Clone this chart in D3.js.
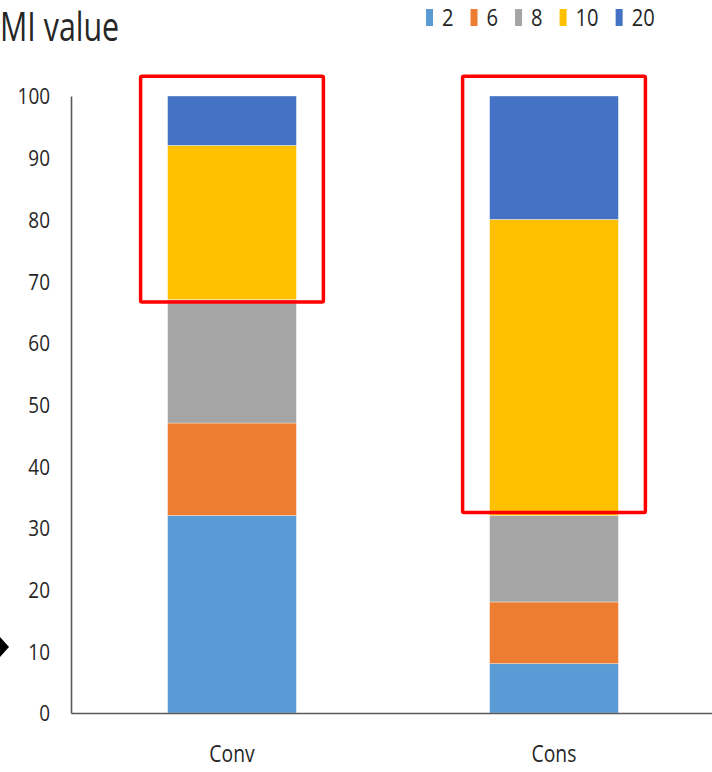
<!DOCTYPE html>
<html>
<head>
<meta charset="utf-8">
<script src="https://cdn.jsdelivr.net/npm/d3@7"></script>
<style>
  html, body { margin: 0; padding: 0; background: #fff; }
  svg { display: block; }
  text { font-family: "Open Sans", "Noto Sans", sans-serif; fill: #262626; }
</style>
</head>
<body>
<svg id="chart" width="712" height="772"></svg>
<script>
// Stacked composition (%) of each MI value class per treatment
const categories = ["Conv", "Cons"];
const seriesKeys = ["2", "6", "8", "10", "20"];
const share2  = [32, 8];
const share6  = [15, 10];
const share8  = [20, 14];
const share10 = [25, 48];
const share20 = [8, 20];
const yTicks = [0, 10, 20, 30, 40, 50, 60, 70, 80, 90, 100];
const colors = ["#5B9BD5", "#ED7D31", "#A5A5A5", "#FFC000", "#4472C4"];

// Highlighted ranges (value span) drawn as red boxes around the upper classes
const highlightCats = ["Conv", "Cons"];
const highlightFrom = [66.6, 32.5];
const highlightTo   = [103.2, 103.2];
// Pointer marker beside the axis
const pointerValue = 10.7;

const seriesValues = [share2, share6, share8, share10, share20];
const rows = categories.map((c, i) => {
  const r = { cat: c };
  seriesKeys.forEach((k, j) => { r[k] = seriesValues[j][i]; });
  return r;
});

const svg = d3.select("#chart");
const W = 712, H = 772;
const margin = { left: 71, right: -3, top: 96, bottom: 59 };

const x = d3.scaleBand()
  .domain(categories)
  .range([margin.left, W - margin.right])
  .paddingInner(0.6)
  .paddingOuter(0.3);

const y = d3.scaleLinear()
  .domain([0, 100])
  .range([H - margin.bottom, margin.top]);

const color = d3.scaleOrdinal().domain(seriesKeys).range(colors);

const stacked = d3.stack().keys(seriesKeys)(rows);

// Bars
svg.append("g")
  .selectAll("g")
  .data(stacked)
  .join("g")
  .attr("fill", d => color(d.key))
  .selectAll("rect")
  .data(d => d)
  .join("rect")
  .attr("x", d => x(d.data.cat))
  .attr("width", x.bandwidth())
  .attr("y", d => y(d[1]))
  .attr("height", d => y(d[0]) - y(d[1]))
  .attr("stroke", "rgba(255,255,255,0.45)")
  .attr("stroke-width", 0.8);

// Axes
const sxTick = 0.86;
const yAxis = svg.append("g")
  .attr("transform", `translate(${margin.left},0)`)
  .call(d3.axisLeft(y).tickValues(yTicks).tickSize(0).tickSizeOuter(0).tickPadding(0));
yAxis.select(".domain").attr("stroke", "#595959").attr("stroke-width", 1.6);
yAxis.selectAll(".tick text")
  .attr("x", 0)
  .attr("dy", "0.36em")
  .attr("transform", `translate(-21,0) scale(${sxTick},1)`)
  .style("font-size", "22px")
  .style("font-family", "'Open Sans', sans-serif")
  .attr("fill", "#262626");

const xAxis = svg.append("g")
  .attr("transform", `translate(0,${y(0)})`)
  .call(d3.axisBottom(x).tickSize(0).tickSizeOuter(0).tickPadding(0));
xAxis.select(".domain").attr("stroke", "#595959").attr("stroke-width", 1.6);
xAxis.selectAll(".tick text")
  .attr("y", 0)
  .attr("dy", 0)
  .attr("transform", `translate(0,49) scale(0.84,1)`)
  .style("font-size", "23px")
  .style("font-family", "'Open Sans', sans-serif")
  .attr("fill", "#262626");

// Highlight boxes
const boxPad = 27;
svg.append("g")
  .selectAll("rect")
  .data(highlightCats.map((c, i) => ({ cat: c, from: highlightFrom[i], to: highlightTo[i] })))
  .join("rect")
  .attr("x", d => x(d.cat) - boxPad)
  .attr("width", x.bandwidth() + boxPad * 2)
  .attr("y", d => y(d.to))
  .attr("height", d => y(d.from) - y(d.to))
  .attr("fill", "none")
  .attr("stroke", "#FF0000")
  .attr("stroke-width", 3.5)
  .attr("rx", 1.5);

// Pointer marker at the left edge
const py = y(pointerValue);
svg.append("path")
  .attr("d", `M-9,${py} L0,${py - 10} L9,${py} L0,${py + 10} Z`)
  .attr("fill", "#000");

// Title
svg.append("text")
  .attr("transform", "translate(0,41) scale(0.76,1)")
  .style("font-size", "40px")
  .text("MI value");

// Legend
const legend = svg.append("g").attr("transform", "translate(426,0)");
let lx = 0;
seriesKeys.forEach((k, i) => {
  legend.append("rect")
    .attr("x", lx).attr("y", 9)
    .attr("width", 7).attr("height", 17)
    .attr("fill", color(k));
  const t = legend.append("text")
    .attr("transform", `translate(${lx + 16},26) scale(0.84,1)`)
    .style("font-size", "24px")
    .text(k);
  const tw = t.node().getComputedTextLength() * 0.84;
  lx += 16 + tw + 17;
});
</script>
</body>
</html>
